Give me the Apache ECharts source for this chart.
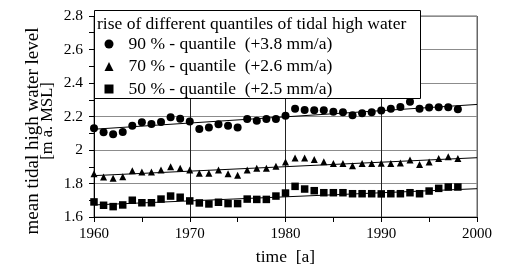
<!DOCTYPE html>
<html>
<head>
<meta charset="utf-8">
<script src="https://cdn.jsdelivr.net/npm/echarts@6/dist/echarts.min.js"></script>
<style>
  html, body { margin: 0; padding: 0; background: #fff; }
  #chart { width: 509px; height: 268px; }
</style>
</head>
<body>
<div id="chart"></div>
<script>
// observation years
const years = [
  1960, 1961, 1962, 1963, 1964, 1965, 1966, 1967, 1968, 1969,
  1970, 1971, 1972, 1973, 1974, 1975, 1976, 1977, 1978, 1979,
  1980, 1981, 1982, 1983, 1984, 1985, 1986, 1987, 1988, 1989,
  1990, 1991, 1992, 1993, 1994, 1995, 1996, 1997, 1998,
]

// quantiles of tidal high water [m a. MSL]
const q90 = [
  2.130, 2.106, 2.094, 2.107, 2.145, 2.165, 2.155, 2.167, 2.195, 2.187,
  2.170, 2.125, 2.135, 2.153, 2.145, 2.135, 2.185, 2.175, 2.185, 2.185,
  2.205, 2.247, 2.239, 2.237, 2.237, 2.229, 2.225, 2.207, 2.219, 2.225,
  2.236, 2.247, 2.257, 2.288, 2.247, 2.253, 2.255, 2.255, 2.243,
]
const q70 = [
  1.858, 1.839, 1.831, 1.841, 1.876, 1.869, 1.869, 1.881, 1.900, 1.891,
  1.881, 1.861, 1.861, 1.881, 1.858, 1.849, 1.881, 1.891, 1.891, 1.903,
  1.928, 1.952, 1.952, 1.944, 1.930, 1.920, 1.920, 1.906, 1.920, 1.920,
  1.921, 1.920, 1.922, 1.940, 1.914, 1.928, 1.950, 1.960, 1.950,
]
const q50 = [
  1.690, 1.670, 1.662, 1.672, 1.700, 1.685, 1.685, 1.707, 1.725, 1.718,
  1.696, 1.684, 1.678, 1.688, 1.680, 1.680, 1.707, 1.705, 1.705, 1.725,
  1.743, 1.783, 1.767, 1.757, 1.745, 1.745, 1.745, 1.739, 1.739, 1.739,
  1.738, 1.739, 1.739, 1.745, 1.739, 1.755, 1.771, 1.779, 1.779,
]

// linear trends, read at the ends of the time axis
const trendYears = [1960, 2000]
const trend90 = [2.124, 2.272]
const trend70 = [1.847, 1.954]
const trend50 = [1.672, 1.769]

const names = [
  '90 % - quantile  (+3.8 mm/a)',
  '70 % - quantile  (+2.6 mm/a)',
  '50 % - quantile  (+2.5 mm/a)',
]
const legendTitle = 'rise of different quantiles of tidal high water'
const yTitle = ['mean tidal high water level', '[m a. MSL]']
const xTitle = 'time  [a]'

const font = '"Liberation Serif", "DejaVu Serif", serif'

function pairs(xs, ys) {
  return xs.map((x, i) => [x, ys[i]])
}

function scatter(name, symbol, size, values) {
  return {
    name,
    type: 'scatter',
    symbol,
    symbolSize: size,
    data: pairs(years, values),
    itemStyle: { color: '#000', opacity: 1 },
    z: 3,
  }
}

function trend(values) {
  return {
    type: 'line',
    data: pairs(trendYears, values),
    showSymbol: false,
    symbol: 'none',
    lineStyle: { color: '#000', width: 1 },
    silent: true,
    z: 2,
  }
}

const chart = echarts.init(document.getElementById('chart'), null, { renderer: 'canvas' })

chart.setOption({
  animation: false,
  textStyle: { fontFamily: font, color: '#000' },
  grid: {
    left: 94,
    right: 32,
    top: 16,
    bottom: 51,
    containLabel: false,
    outerBoundsMode: 'none',
    show: true,
    borderColor: '#666',
    borderWidth: 1,
  },
  xAxis: {
    type: 'value',
    min: 1960,
    max: 2000,
    interval: 10,
    name: xTitle,
    nameLocation: 'middle',
    nameGap: 31,
    nameTextStyle: { fontFamily: font, fontSize: 17.5, color: '#000' },
    axisLine: { lineStyle: { color: '#000', width: 1 } },
    axisTick: { show: true, length: 5, lineStyle: { color: '#000' } },
    minorTick: { show: true, splitNumber: 2, length: 5, lineStyle: { color: '#000' } },
    axisLabel: {
      fontFamily: font,
      fontSize: 15,
      color: '#000',
      margin: 10,
      formatter: (v) => String(v),
    },
    splitLine: {
      show: true,
      lineStyle: { color: ['#000', '#222', '#222', '#222', '#666'], width: 1 },
    },
  },
  yAxis: {
    type: 'value',
    min: 1.6,
    max: 2.8,
    interval: 0.2,
    axisLine: { show: true, lineStyle: { color: '#000', width: 1 } },
    axisTick: { show: true, length: 5, lineStyle: { color: '#000' } },
    minorTick: { show: true, splitNumber: 2, length: 5, lineStyle: { color: '#000' } },
    axisLabel: { fontFamily: font, fontSize: 15.5, color: '#000', margin: 11 },
    splitLine: { show: true, lineStyle: { color: '#8c8c8c', width: 1 } },
  },
  legend: {
    show: true,
    orient: 'vertical',
    left: 104.5,
    top: 35,
    padding: 0,
    itemGap: 4.5,
    itemWidth: 9,
    itemHeight: 9,
    data: [
      { name: names[0], icon: 'circle' },
      { name: names[1], icon: 'triangle' },
      { name: names[2], icon: 'rect' },
    ],
    textStyle: {
      fontFamily: font,
      fontSize: 17.5,
      lineHeight: 16,
      color: '#000',
      padding: [0, 0, 0, 10],
    },
    z: 6,
  },
  graphic: [
    {
      type: 'rect',
      shape: { x: 94.5, y: 10.5, width: 326, height: 88 },
      style: { fill: '#fff', stroke: '#000', lineWidth: 1 },
      z: 5,
    },
    {
      type: 'text',
      x: 97,
      y: 24,
      style: {
        text: legendTitle,
        font: '17.5px ' + font,
        fill: '#000',
        textVerticalAlign: 'middle',
      },
      z: 7,
    },
    {
      type: 'text',
      x: 33,
      y: 131,
      rotation: Math.PI / 2,
      style: {
        text: yTitle[0],
        font: '19px ' + font,
        fill: '#000',
        textAlign: 'center',
        textVerticalAlign: 'middle',
      },
    },
    {
      type: 'text',
      x: 48,
      y: 121,
      rotation: Math.PI / 2,
      style: {
        text: yTitle[1],
        font: '16.5px ' + font,
        fill: '#000',
        textAlign: 'center',
        textVerticalAlign: 'middle',
      },
    },
  ],
  series: [
    scatter(names[0], 'circle', 8, q90),
    scatter(names[1], 'triangle', 7, q70),
    scatter(names[2], 'rect', 7.5, q50),
    trend(trend90),
    trend(trend70),
    trend(trend50),
  ],
})
</script>
</body>
</html>
